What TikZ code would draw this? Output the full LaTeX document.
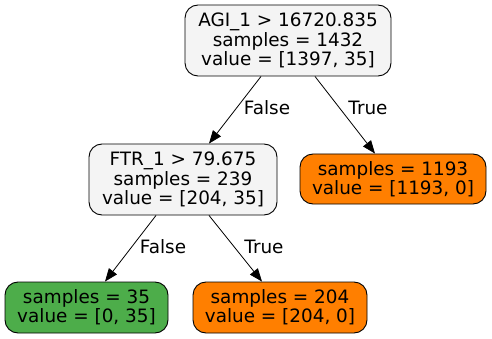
\documentclass[tikz,border=0pt]{standalone}
\usepackage{fontspec}
\setmainfont{DejaVu Sans}
\usetikzlibrary{arrows.meta}
\definecolor{grayfill}{HTML}{F4F4F4}
\definecolor{orangefill}{HTML}{FF7F00}
\definecolor{greenfill}{HTML}{4DAD4A}
\begin{document}
\begin{tikzpicture}[x=1pt,y=-1pt,
  treenode/.style={draw=black,line width=0.9pt,rounded corners=13pt,inner sep=0pt,align=center,
    font=\fontsize{18.4}{19.4}\selectfont},
  edge/.style={draw=black,line width=0.8pt,-{Triangle[length=13pt,width=10pt]}},
  elabel/.style={font=\fontsize{18.4}{19.4}\selectfont}]
\useasboundingbox (0,0) rectangle (492,339);
\node[treenode,fill=grayfill,minimum width=206pt,minimum height=71pt] (root) at (288,40.5)
  {AGI\_1 > 16720.835\\samples = 1432\\value = [1397, 35]};
\node[treenode,fill=grayfill,minimum width=188pt,minimum height=71pt] (ftr) at (183,179.5)
  {FTR\_1 > 79.675\\samples = 239\\value = [204, 35]};
\node[treenode,fill=orangefill,minimum width=186pt,minimum height=50pt] (big) at (393,179)
  {samples = 1193\\value = [1193, 0]};
\node[treenode,fill=greenfill,minimum width=163pt,minimum height=51pt] (g35) at (86.5,307.5)
  {samples = 35\\value = [0, 35]};
\node[treenode,fill=orangefill,minimum width=174pt,minimum height=51pt] (o204) at (280,307.5)
  {samples = 204\\value = [204, 0]};
\draw[edge] (root.south -| 261,0) -- (ftr.north -| 209,0);
\draw[edge] (root.south -| 315,0) -- (big.north -| 375,0);
\draw[edge] (ftr.south -| 156,0) -- (g35.north -| 105,0);
\draw[edge] (ftr.south -| 209,0) -- (o204.north -| 262,0);
\node[elabel] (l1) at (267,108) {False};
\node[elabel] (l2) at (368,108) {True};
\node[elabel] (l3) at (163,247) {False};
\node[elabel] (l4) at (264,247) {True};
\end{tikzpicture}
\end{document}
